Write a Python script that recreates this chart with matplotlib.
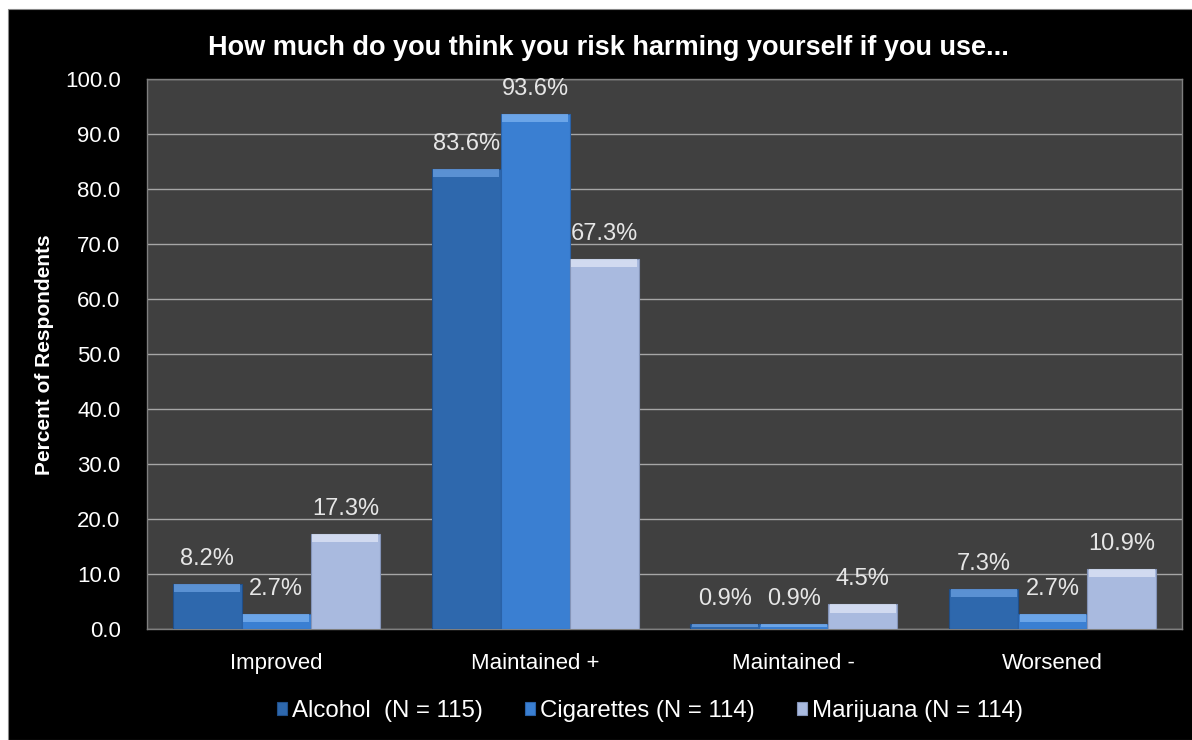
import numpy as np
import matplotlib
matplotlib.use('Agg')
import matplotlib.pyplot as plt
from matplotlib.patches import Rectangle

categories = ['Improved', 'Maintained +', 'Maintained -', 'Worsened']
series_names = ['Alcohol  (N = 115)', 'Cigarettes (N = 114)', 'Marijuana (N = 114)']
alcohol = [8.2, 83.6, 0.9, 7.3]
cigarettes = [2.7, 93.6, 0.9, 2.7]
marijuana = [17.3, 67.3, 4.5, 10.9]
yticks = [0, 10, 20, 30, 40, 50, 60, 70, 80, 90, 100]

colors = ['#2e68ad', '#3a7fd2', '#a9badf']
tops = ['#6a9fe0', '#7cb2f0', '#dfe6f6']
edges = ['#1f4f8a', '#2a62a8', '#8494b8']

plt.rcParams['font.family'] = ['Liberation Sans', 'DejaVu Sans']

fig = plt.figure(figsize=(11.92, 7.40), dpi=100)
fig.patch.set_facecolor('white')
fig.add_artist(Rectangle((8 / 1192, 0), 1, 731 / 740, transform=fig.transFigure,
                         facecolor='black', edgecolor='#888888', lw=0.8, zorder=0))

ax = fig.add_axes([147 / 1192, 1 - 629 / 740, 1035 / 1192, 550 / 740])
ax.set_facecolor('#404040')

x = np.arange(len(categories))
w = 0.8 / 3
data = [alcohol, cigarettes, marijuana]
strip = 1.5  # height of the bevel highlight in data units
for i, vals in enumerate(data):
    pos = x + (i - 1) * w
    ax.bar(pos, vals, width=w, color=colors[i], edgecolor=edges[i], linewidth=0.8,
           zorder=3, label=series_names[i])
    hs = [min(strip, v * 0.5) for v in vals]
    ax.bar(pos, hs, width=w * 0.96, bottom=np.array(vals) - np.array(hs),
           color=tops[i], linewidth=0, zorder=4, alpha=0.75)
    for px, v in zip(pos, vals):
        ax.annotate('%.1f%%' % v, (px, v), xytext=(0, 18), textcoords='offset points',
                    ha='center', va='center', color='#e6e6e6', fontsize=17, zorder=5)

ax.set_xlim(-0.5, len(categories) - 0.5)
ax.set_ylim(0, 100)
ax.set_yticks(yticks)
ax.set_yticklabels(['%.1f' % t for t in yticks])
ax.set_xticks(x)
ax.set_xticklabels(categories)
ax.tick_params(axis='both', colors='white', labelsize=16, length=0)
ax.tick_params(axis='y', pad=19)
ax.tick_params(axis='x', pad=17)
ax.grid(axis='y', color='#a6a6a6', lw=1, zorder=1)
ax.set_axisbelow(True)
for s in ax.spines.values():
    s.set_color('#7f7f7f')
    s.set_linewidth(1)

fig.text(45 / 1192, 1 - 355 / 740, 'Percent of Respondents', rotation=90, color='white',
         fontsize=15, fontweight='bold', ha='center', va='center')

fig.text(608 / 1192, 1 - 48 / 740, 'How much do you think you risk harming yourself if you use...',
         color='white', fontsize=19.5, fontweight='bold', ha='center', va='center')

leg = fig.legend(loc='center', bbox_to_anchor=(650 / 1192, 1 - 711 / 740), ncol=3,
                 frameon=False, fontsize=17.3, labelcolor='white', handlelength=0.42,
                 handleheight=0.42, handletextpad=0.2, columnspacing=1.75)

fig.savefig('out.png', dpi=100, facecolor=fig.get_facecolor())
